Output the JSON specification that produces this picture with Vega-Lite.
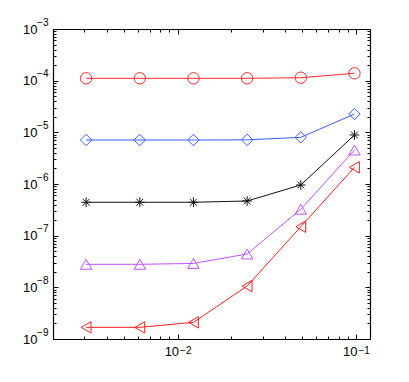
{
  "$schema": "https://vega.github.io/schema/vega-lite/v6.json",
  "width": 317,
  "height": 310,
  "autosize": {"type": "none"},
  "padding": {"left": 53, "top": 29, "right": 39, "bottom": 43},
  "background": "white",
  "config": {
    "view": {"stroke": null},
    "axis": {
      "domainColor": "black",
      "domainWidth": 1.2,
      "tickColor": "black",
      "tickWidth": 1,
      "grid": false,
      "title": null,
      "labelFont": "Liberation Sans",
      "labelFontSize": 13,
      "labelColor": "black"
    }
  },
  "data": {
    "values": [
      {"h": 0.003068, "err": 1.11e-4, "s": "A"},
      {"h": 0.006136, "err": 1.11e-4, "s": "A"},
      {"h": 0.012272, "err": 1.11e-4, "s": "A"},
      {"h": 0.024544, "err": 1.11e-4, "s": "A"},
      {"h": 0.049087, "err": 1.14e-4, "s": "A"},
      {"h": 0.098175, "err": 1.39e-4, "s": "A"},
      {"h": 0.003068, "err": 7.1e-6, "s": "B"},
      {"h": 0.006136, "err": 7.1e-6, "s": "B"},
      {"h": 0.012272, "err": 7.1e-6, "s": "B"},
      {"h": 0.024544, "err": 7.15e-6, "s": "B"},
      {"h": 0.049087, "err": 8.0e-6, "s": "B"},
      {"h": 0.098175, "err": 2.26e-5, "s": "B"},
      {"h": 0.003068, "err": 4.43e-7, "s": "C"},
      {"h": 0.006136, "err": 4.43e-7, "s": "C"},
      {"h": 0.012272, "err": 4.43e-7, "s": "C"},
      {"h": 0.024544, "err": 4.69e-7, "s": "C"},
      {"h": 0.049087, "err": 9.57e-7, "s": "C"},
      {"h": 0.098175, "err": 8.88e-6, "s": "C"},
      {"h": 0.003068, "err": 2.79e-8, "s": "D"},
      {"h": 0.006136, "err": 2.79e-8, "s": "D"},
      {"h": 0.012272, "err": 2.9e-8, "s": "D"},
      {"h": 0.024544, "err": 4.42e-8, "s": "D"},
      {"h": 0.049087, "err": 3.24e-7, "s": "D"},
      {"h": 0.098175, "err": 4.55e-6, "s": "D"},
      {"h": 0.003068, "err": 1.68e-9, "s": "E"},
      {"h": 0.006136, "err": 1.68e-9, "s": "E"},
      {"h": 0.012272, "err": 2.1e-9, "s": "E"},
      {"h": 0.024544, "err": 1.06e-8, "s": "E"},
      {"h": 0.049087, "err": 1.49e-7, "s": "E"},
      {"h": 0.098175, "err": 2.1e-6, "s": "E"}
    ]
  },
  "resolve": {"axis": {"x": "independent", "y": "independent"}},
  "layer": [
    {
      "mark": {"type": "line", "strokeWidth": 1, "clip": true},
      "encoding": {
        "x": {"field": "h", "type": "quantitative",
          "scale": {"type": "log", "domain": [0.002, 0.12], "nice": false},
          "axis": {"orient": "bottom", "values": [0.01, 0.1], "tickSize": -5, "labelPadding": 11,
            "labelExpr": "'10'", "labelAlign": "right", "labelOffset": 1, "labelBaseline": "top"}},
        "y": {"field": "err", "type": "quantitative",
          "scale": {"type": "log", "domain": [1e-9, 1e-3], "nice": false},
          "axis": {"orient": "left", "values": [1e-9, 1e-8, 1e-7, 1e-6, 1e-5, 1e-4, 1e-3], "tickSize": -5, "labelPadding": 21,
            "labelExpr": "'10'", "labelAlign": "right", "labelBaseline": "middle"}},
        "color": {"field": "s", "type": "nominal", "legend": null,
          "scale": {"domain": ["A", "B", "C", "D", "E"], "range": ["#ff2a2a", "#3a5cff", "#111111", "#c050ff", "#ff2020"]}},
        "detail": {"field": "s"}
      }
    },
    {
      "mark": {"type": "point", "filled": false, "strokeWidth": 1, "size": 130, "opacity": 1},
      "encoding": {
        "x": {"field": "h", "type": "quantitative",
          "axis": {"orient": "top", "values": [0.01, 0.1], "tickSize": -5, "labels": false}},
        "y": {"field": "err", "type": "quantitative",
          "axis": {"orient": "right", "values": [1e-9, 1e-8, 1e-7, 1e-6, 1e-5, 1e-4, 1e-3], "tickSize": -5, "labels": false}},
        "color": {"field": "s", "type": "nominal", "legend": null},
        "shape": {"field": "s", "type": "nominal", "legend": null,
          "scale": {"domain": ["A", "B", "C", "D", "E"], "range": ["circle", "diamond", "M-0.85,0L0.85,0M0,-0.85L0,0.85M-0.6,-0.6L0.6,0.6M-0.6,0.6L0.6,-0.6", "triangle-up", "triangle-left"]}}
      }
    },
    {
      "mark": {"type": "point", "opacity": 0},
      "encoding": {
        "x": {"field": "h", "type": "quantitative",
          "axis": {"orient": "bottom", "values": [0.002, 0.003, 0.004, 0.005, 0.006, 0.007, 0.008, 0.009, 0.02, 0.03, 0.04, 0.05, 0.06, 0.07, 0.08, 0.09], "tickSize": -3, "labels": false, "domain": false}},
        "y": {"field": "err", "type": "quantitative",
          "axis": {"orient": "left", "values": [2e-9, 3e-9, 4e-9, 5e-9, 6e-9, 7e-9, 8e-9, 9e-9, 2e-8, 3e-8, 4e-8, 5e-8, 6e-8, 7e-8, 8e-8, 9e-8, 2e-7, 3e-7, 4e-7, 5e-7, 6e-7, 7e-7, 8e-7, 9e-7, 2e-6, 3e-6, 4e-6, 5e-6, 6e-6, 7e-6, 8e-6, 9e-6, 2e-5, 3e-5, 4e-5, 5e-5, 6e-5, 7e-5, 8e-5, 9e-5, 2e-4, 3e-4, 4e-4, 5e-4, 6e-4, 7e-4, 8e-4, 9e-4], "tickSize": -3, "labels": false, "domain": false}}
      }
    },
    {
      "mark": {"type": "point", "opacity": 0},
      "encoding": {
        "x": {"field": "h", "type": "quantitative",
          "axis": {"orient": "top", "values": [0.002, 0.003, 0.004, 0.005, 0.006, 0.007, 0.008, 0.009, 0.02, 0.03, 0.04, 0.05, 0.06, 0.07, 0.08, 0.09], "tickSize": -3, "labels": false, "domain": false}},
        "y": {"field": "err", "type": "quantitative",
          "axis": {"orient": "right", "values": [2e-9, 3e-9, 4e-9, 5e-9, 6e-9, 7e-9, 8e-9, 9e-9, 2e-8, 3e-8, 4e-8, 5e-8, 6e-8, 7e-8, 8e-8, 9e-8, 2e-7, 3e-7, 4e-7, 5e-7, 6e-7, 7e-7, 8e-7, 9e-7, 2e-6, 3e-6, 4e-6, 5e-6, 6e-6, 7e-6, 8e-6, 9e-6, 2e-5, 3e-5, 4e-5, 5e-5, 6e-5, 7e-5, 8e-5, 9e-5, 2e-4, 3e-4, 4e-4, 5e-4, 6e-4, 7e-4, 8e-4, 9e-4], "tickSize": -3, "labels": false, "domain": false}}
      }
    },
    {
      "mark": {"type": "point", "opacity": 0},
      "encoding": {
        "x": {"field": "h", "type": "quantitative",
          "axis": {"orient": "bottom", "values": [0.01, 0.1], "ticks": false, "domain": false, "labelPadding": 6,
            "labelExpr": "'−' + format(round(-log(datum.value)/LN10), 'd')", "labelFontSize": 10, "labelAlign": "left", "labelOffset": 2, "labelBaseline": "top"}},
        "y": {"field": "err", "type": "quantitative",
          "axis": {"orient": "left", "values": [1e-9, 1e-8, 1e-7, 1e-6, 1e-5, 1e-4, 1e-3], "ticks": false, "domain": false, "labelPadding": 5,
            "labelExpr": "'−' + format(round(-log(datum.value)/LN10), 'd')", "labelFontSize": 10, "labelAlign": "right", "labelOffset": -7, "labelBaseline": "middle"}}
      }
    }
  ]
}
